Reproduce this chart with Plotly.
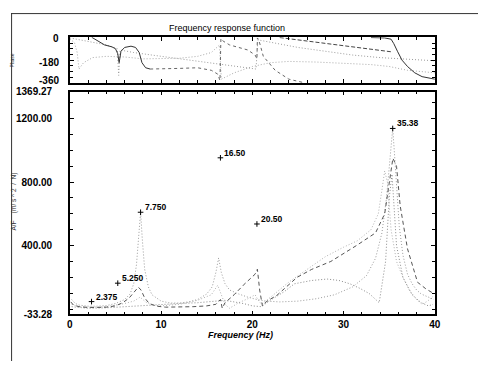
import plotly.graph_objects as go

# page geometry (browser body has an 8px margin, so the figure is offset by 8px)
PW, PH = 486, 366
OFF = 8
FW, FH = PW - OFF, PH - OFF

# ---------------- data ----------------
# Magnitude curves (Hz, m/s^2/N)
m1_f = [0.2, 0.6, 1, 2, 3, 4, 5, 6, 6.6, 7.0, 7.3, 7.55, 7.75, 7.95, 8.2, 8.6, 9, 10, 11, 12, 13, 14, 15, 15.6,
        16.0, 16.3, 16.6, 17.0, 17.5, 18.5, 19.5, 20.5, 21.5, 23, 25, 27, 29, 31, 32.5, 33.5, 34.2, 34.7, 35.0,
        35.2, 35.38, 35.55, 35.8, 36.1, 36.5, 37, 37.5, 38, 38.5, 39, 39.5, 39.9]
m1_v = [60, 35, 25, 18, 18, 22, 35, 60, 95, 160, 280, 450, 610, 430, 250, 140, 90, 50, 38, 38, 45, 60, 95, 140,
        230, 322, 230, 160, 120, 95, 75, 60, 50, 45, 50, 65, 90, 140, 210, 320, 480, 700, 900,
        1050, 1138, 1000, 760, 520, 340, 220, 160, 120, 95, 80, 70, 60]

m2_f = [0.1, 0.4, 1, 2, 3, 4, 5, 5.8, 6.5, 7.0, 7.3, 7.5, 7.8, 8.2, 8.7, 9.5, 10.5, 12, 13.5, 15, 16, 16.5, 16.7,
        17, 18, 19, 19.8, 20.3, 20.55, 20.8, 21.1, 21.6, 22.7, 24.9, 26.5, 28.6, 31.4, 33.5, 34.5, 35.0, 35.4,
        35.8, 36.2, 37, 38.1, 39, 39.8]
m2_v = [45, 25, 15, 10, 10, 12, 20, 40, 70, 105, 130, 138, 120, 70, 35, 18, 12, 12, 15, 20, 30, 60, 5,
        40, 90, 150, 190, 220, 251, 120, 20, 50, 87, 200, 250, 300, 400, 480, 600, 800, 950,
        900, 650, 380, 169, 128, 100]

m3_f = [0.2, 1, 2, 3, 4, 5, 6, 7, 7.7, 8.3, 9, 10, 12, 14, 15.5, 16.2, 16.5, 17, 17.5, 18.5, 19.5, 20.3, 20.6,
        21.0, 22, 24, 26, 28, 30, 31.5, 33, 33.8, 34.2, 34.5, 34.8, 35.2, 35.8, 36.5, 37.2, 38, 38.6, 39.2, 39.8]
m3_v = [30, 15, 12, 12, 15, 25, 35, 50, 75, 45, 25, 20, 30, 55, 90, 150, 100, 30, 5, 40, 65, 90, 60,
        30, 75, 170, 250, 330, 390, 430, 500, 600, 750, 870, 800, 500, 300, 200, 120, 60, 30, 50, 80]

m4_f = [0.2, 2, 4, 6, 8, 10, 12, 14, 16, 17, 18, 19, 20, 21, 22, 23.5, 24.6, 26.5, 28.2, 29.5, 30.7, 31.8, 32.8,
        33.5, 33.9, 34.6, 35.0, 35.3, 35.8, 36.5, 37.5, 38.5, 39.3, 39.8]
m4_v = [15, 5, 8, 15, 25, 30, 35, 40, 50, 55, 45, 35, 20, 15, 57, 110, 159, 180, 189, 180, 159, 130, 98,
        60, 40, 300, 700, 850, 400, 200, 90, 40, 20, 30]

# Phase curves (Hz, deg)
p1_f = [2.4, 3.0, 3.8, 4.6, 5.0, 5.25, 5.4, 5.6, 6.0, 6.7, 7.2, 7.6, 7.9, 8.3, 8.8]
p1_v = [0, -25, -60, -75, -90, -130, -200, -110, -80, -70, -80, -120, -200, -240, -250]

p2_f = [8.8, 10, 12, 14, 15.5, 16.2, 16.45, 16.55, 16.8, 17.5, 18.5, 19.5, 20.3, 20.5, 20.55, 20.7, 21.2, 22.5,
        24, 25.5]
p2_v = [-250, -250, -245, -240, -260, -290, -340, -10, -30, -60, -80, -100, -140, -170, -5, -20, -150, -260,
        -330, -355]

p3_f = [23, 26, 29, 32, 34, 35.3]
p3_v = [-2, -30, -55, -85, -100, -115]

p4_f = [33, 34.5, 35.2, 35.5, 35.9, 36.4, 37, 37.8, 38.6, 39.5, 40]
p4_v = [-2, -5, -15, -50, -110, -180, -230, -280, -310, -325, -330]

p5_f = [0, 0.5, 0.8, 1.0, 1.5, 2.5, 4, 6, 8, 10, 12, 14, 15.5, 16.4, 16.6, 18, 20, 22, 24, 27, 30, 33, 35, 37, 40]
p5_v = [-15, -40, -120, -250, -200, -160, -150, -155, -170, -170, -165, -150, -120, -60, -330, -280, -230, -200,
        -190, -195, -205, -215, -230, -260, -280]

p6_f = [0, 2, 4, 5.2, 5.35, 5.5, 7, 9, 12, 15, 18, 20.4, 20.6, 22, 25, 28, 31, 34, 36, 38, 40]
p6_v = [-5, -30, -60, -90, -300, -100, -120, -140, -170, -200, -230, -250, -20, -40, -80, -110, -140, -160,
        -170, -180, -185]

# Peak picks
peak_f = [2.375, 5.250, 7.750, 16.50, 20.50, 35.38]
peak_v = [47, 163, 610, 953, 536, 1138]
peak_lbl = ["2.375", "5.250", "7.750", "16.50", "20.50", "35.38"]

# Tick labels
mag_tickvals = [-33.28, 400, 800, 1200, 1369.27]
mag_ticktext = ["-33.28", "400.00", "800.00", "1200.00", "1369.27"]
ph_tickvals = [0, -180, -360]
ph_ticktext = ["0", "-180", "-360"]
freq_tickvals = [0, 10, 20, 30, 40]


def px_x(px):
    return (px - OFF) / FW


def px_y(py):
    return 1 - (py - OFF) / FH


# ---------------- figure ----------------
FONT = "Liberation Sans"
TICKFONT = dict(family=FONT, size=10, color="black", weight="bold")
fig = go.Figure()


def add(xs, ys, color, dash, width, xa, ya):
    fig.add_trace(go.Scatter(x=xs, y=ys, mode="lines", xaxis=xa, yaxis=ya,
                             line=dict(color=color, dash=dash, width=width),
                             hoverinfo="skip", showlegend=False))


# magnitude
add(m1_f, m1_v, "#9a9a9a", "1px,2px", 1, "x", "y")
add(m3_f, m3_v, "#b0b0b0", "1px,2px", 1, "x", "y")
add(m4_f, m4_v, "#8a8a8a", "1px,2px", 1, "x", "y")
add(m2_f, m2_v, "#555555", "4px,3px", 1, "x", "y")
# phase
add(p5_f, p5_v, "#a8a8a8", "1px,2px", 1, "x2", "y2")
add(p6_f, p6_v, "#9a9a9a", "1px,2px", 1, "x2", "y2")
add(p2_f, p2_v, "#666666", "3px,3px", 1, "x2", "y2")
add(p3_f, p3_v, "#444444", "4px,2px", 1, "x2", "y2")
add(p1_f, p1_v, "#333333", "solid", 1, "x2", "y2")
add(p4_f, p4_v, "#333333", "solid", 1, "x2", "y2")

fig.add_trace(go.Scatter(x=peak_f, y=peak_v, mode="markers", xaxis="x", yaxis="y",
                         marker=dict(symbol="cross-thin", size=4, line=dict(color="black", width=1)),
                         hoverinfo="skip", showlegend=False))
for f, v, t in zip(peak_f, peak_v, peak_lbl):
    fig.add_annotation(x=f, y=v, xref="x", yref="y", text=t, showarrow=False,
                       xanchor="left", yanchor="middle", xshift=2, yshift=5,
                       font=dict(family=FONT, size=8.5, color="black", weight="bold"))

x0, x1 = px_x(68), px_x(440)
common_x = dict(range=[0, 40], showgrid=False, zeroline=False, showline=True, linecolor="black",
                linewidth=1.5, mirror="allticks", ticks="inside", ticklen=4, tickcolor="black",
                minor=dict(tickmode="linear", tick0=0, dtick=2, ticks="inside", ticklen=3, tickcolor="black"),
                tickfont=TICKFONT)
fig.update_layout(
    width=FW, height=FH, margin=dict(l=0, r=0, t=0, b=0),
    paper_bgcolor="white", plot_bgcolor="white", showlegend=False,
    xaxis=dict(domain=[x0, x1], anchor="y", tickvals=freq_tickvals, **common_x),
    yaxis=dict(domain=[px_y(318), px_y(89)], anchor="x", range=[-33.29, 1369.28],
               tickvals=mag_tickvals, ticktext=mag_ticktext, showgrid=False, zeroline=False,
               showline=True, linecolor="black", linewidth=1.5, mirror="allticks",
               ticks="inside", ticklen=4, tickcolor="black", ticklabelstandoff=14,
               minor=dict(tickmode="linear", tick0=0, dtick=100, ticks="inside", ticklen=3, tickcolor="black"),
               tickfont=TICKFONT),
    xaxis2=dict(domain=[x0, x1], anchor="y2", tickvals=freq_tickvals, showticklabels=False, **common_x),
    yaxis2=dict(domain=[px_y(80), px_y(33)], anchor="x2", range=[-360, 0],
                tickvals=ph_tickvals, showticklabels=False, showgrid=False, zeroline=False,
                showline=True, linecolor="black", linewidth=1.5, mirror="allticks",
                ticks="inside", ticklen=4, tickcolor="black",
                minor=dict(tickmode="linear", tick0=0, dtick=45, ticks="inside", ticklen=3, tickcolor="black")),
)

# phase tick labels (placed individually so "-360" sits clear of "1369.27")
for t, py in zip(ph_ticktext, [34, 59, 77]):
    fig.add_annotation(x=px_x(59), y=px_y(py), xref="paper", yref="paper", text=t, showarrow=False,
                       xanchor="right", yanchor="middle", font=TICKFONT)

# titles
fig.add_annotation(x=px_x(228), y=px_y(23), xref="paper", yref="paper", text="Frequency response function",
                   showarrow=False, xanchor="center", yanchor="middle",
                   font=dict(family=FONT, size=9, color="black"))
fig.add_annotation(x=px_x(242), y=px_y(339), xref="paper", yref="paper", text="<i>Frequency (Hz)</i>",
                   showarrow=False, xanchor="center", yanchor="middle",
                   font=dict(family=FONT, size=9, color="black", weight="bold"))
fig.add_annotation(x=px_x(11), y=px_y(202), xref="paper", yref="paper", text="A/F    (m/ s ^ 2  /  N)",
                   showarrow=False, textangle=-90, xanchor="center", yanchor="middle",
                   font=dict(family=FONT, size=6.5, color="#333"))
fig.add_annotation(x=px_x(9), y=px_y(57), xref="paper", yref="paper", text="Phase",
                   showarrow=False, textangle=-90, xanchor="center", yanchor="middle",
                   font=dict(family=FONT, size=5, color="#333"))

# page frame
fig.add_shape(type="line", xref="paper", yref="paper", x0=0.6 / FW, x1=0.6 / FW, y0=0, y1=1,
              line=dict(color="#333", width=1))
fig.add_shape(type="line", xref="paper", yref="paper", x0=0, x1=1 - 2 / FW, y0=1 - 0.6 / FH, y1=1 - 0.6 / FH,
              line=dict(color="#333", width=1))

fig.write_html("out.html")
